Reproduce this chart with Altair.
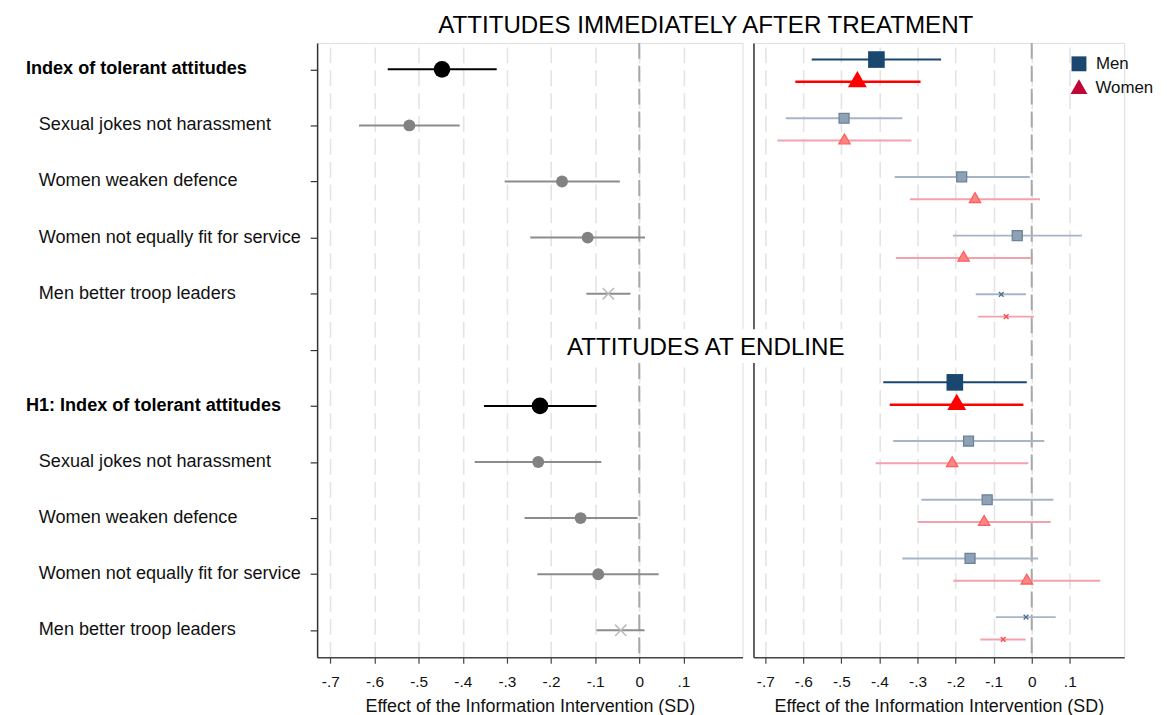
import altair as alt
import pandas as pd

# ------------------------------------------------------------------ data
items = ["Sexual jokes not harassment", "Women weaken defence",
         "Women not equally fit for service", "Men better troop leaders"]
labels_top = ["Index of tolerant attitudes"] + items
labels_end = ["H1: Index of tolerant attitudes"] + items
kinds = ["index", "item", "item", "item", "cross"]

pooled_top_est = [-0.447, -0.521, -0.175, -0.117, -0.070]
pooled_top_lo = [-0.570, -0.635, -0.305, -0.247, -0.120]
pooled_top_hi = [-0.323, -0.407, -0.044, 0.013, -0.020]
pooled_end_est = [-0.225, -0.229, -0.133, -0.093, -0.042]
pooled_end_lo = [-0.352, -0.373, -0.260, -0.231, -0.097]
pooled_end_hi = [-0.097, -0.086, -0.004, 0.044, 0.012]

men_top_est = [-0.408, -0.493, -0.184, -0.038, -0.080]
men_top_lo = [-0.578, -0.646, -0.360, -0.207, -0.147]
men_top_hi = [-0.238, -0.340, -0.005, 0.132, -0.015]
women_top_est = [-0.458, -0.492, -0.149, -0.179, -0.067]
women_top_lo = [-0.621, -0.668, -0.320, -0.357, -0.141]
women_top_hi = [-0.292, -0.316, 0.022, -0.001, 0.006]

men_end_est = [-0.202, -0.166, -0.117, -0.162, -0.015]
men_end_lo = [-0.390, -0.364, -0.290, -0.340, -0.094]
men_end_hi = [-0.013, 0.033, 0.057, 0.017, 0.063]
women_end_est = [-0.197, -0.209, -0.125, -0.013, -0.075]
women_end_lo = [-0.373, -0.410, -0.300, -0.206, -0.135]
women_end_hi = [-0.022, -0.009, 0.050, 0.180, -0.016]

x_ticks = [-0.7, -0.6, -0.5, -0.4, -0.3, -0.2, -0.1, 0.0, 0.1]
title_top = "ATTITUDES IMMEDIATELY AFTER TREATMENT"
title_end = "ATTITUDES AT ENDLINE"
x_title = "Effect of the Information Intervention (SD)"
legend_labels = ["Men", "Women"]

# ------------------------------------------------------------------ frames
rows = []
for labels, est, lo, hi, base in [
    (labels_top, pooled_top_est, pooled_top_lo, pooled_top_hi, 1),
    (labels_end, pooled_end_est, pooled_end_lo, pooled_end_hi, 7),
]:
    for i in range(5):
        rows.append(dict(label=labels[i], row=base + i, est=est[i], lo=lo[i],
                         hi=hi[i], kind=kinds[i]))
left_df = pd.DataFrame(rows)

WOMEN_SHIFT = 0.38
rrows = []
for base, me, ml, mh, we, wl, wh in [
    (1.0, men_top_est, men_top_lo, men_top_hi, women_top_est, women_top_lo, women_top_hi),
    (6.5, men_end_est, men_end_lo, men_end_hi, women_end_est, women_end_lo, women_end_hi),
]:
    for i in range(5):
        rrows.append(dict(sex="Men", pos=base + i, est=me[i], lo=ml[i], hi=mh[i], kind=kinds[i]))
        rrows.append(dict(sex="Women", pos=base + i + WOMEN_SHIFT, est=we[i], lo=wl[i],
                          hi=wh[i], kind=kinds[i]))
right_df = pd.DataFrame(rrows)


def pick(df, kinds_in, sex=None):
    m = df["kind"].isin(kinds_in)
    if sex is not None:
        m &= df["sex"] == sex
    return df[m]


# ------------------------------------------------------------------ styling
FONT = "Liberation Sans"
W_L, W_R, H = 428, 373, 618
NAVY = "#1a476f"
X_PATH = "M-1,-1L1,1M-1,1L1,-1"
TRI_PATH = "M0,-1.155L1,0.577L-1,0.577Z"

x_axis = alt.Axis(
    values=x_ticks,
    labelExpr="datum.value == 0 ? '0' : (datum.value < 0 ? '-' : '') + '.' + round(abs(datum.value) * 10)",
    title=x_title, grid=True, gridDash=[16, 7], gridColor="#e4e4e4", gridWidth=1.6,
    domainColor="#444444", domainWidth=1.5, tickColor="#444444", tickSize=6, tickWidth=1.2,
    labelFont=FONT, labelFontSize=15.5, labelColor="#111111", labelPadding=11,
    titleFont=FONT, titleFontSize=18, titleFontWeight="normal", titleColor="#111111",
    titlePadding=8,
)
y_axis_left = alt.Axis(values=list(range(1, 12)), labels=False, title=None, grid=False,
                       domainColor="#333333", domainWidth=1.5, tickColor="#333333",
                       tickSize=7, tickWidth=1.2)
y_axis_right = alt.Axis(labels=False, ticks=False, title=None, grid=False,
                        domainColor="#333333", domainWidth=1.5)

XL = alt.Scale(domain=[-0.73, 0.234], nice=False, zero=False)
YL = alt.Scale(domain=[0.53, 11.48], reverse=True, nice=False, zero=False)
XR = alt.Scale(domain=[-0.731, 0.243], nice=False, zero=False)
YR = alt.Scale(domain=[0.717, 11.183], reverse=True, nice=False, zero=False)


def ci(df, xs, ys, yfield, yaxis, color, width):
    return alt.Chart(df).mark_rule(color=color, strokeWidth=width).encode(
        x=alt.X("lo:Q", scale=xs, axis=x_axis), x2="hi:Q",
        y=alt.Y(f"{yfield}:Q", scale=ys, axis=yaxis))


def pts(df, xs, ys, yfield, yaxis, shape, size, fill=None, stroke=None, sw=0):
    if fill is None:
        mk = alt.Chart(df).mark_point(shape=shape, size=size, filled=False, stroke=stroke,
                                      strokeWidth=sw, opacity=1)
    else:
        kw = dict(shape=shape, size=size, filled=True, fill=fill, opacity=1)
        if stroke is not None:
            kw.update(stroke=stroke, strokeWidth=sw)
        else:
            kw.update(strokeWidth=0)
        mk = alt.Chart(df).mark_point(**kw)
    return mk.encode(x=alt.X("est:Q", scale=xs, axis=x_axis),
                     y=alt.Y(f"{yfield}:Q", scale=ys, axis=yaxis))


def zero_rule(xs):
    return alt.Chart(pd.DataFrame({"v": [0.0]})).mark_rule(
        color="#a8a8a8", strokeWidth=2, strokeDash=[16, 7]).encode(
        x=alt.X("v:Q", scale=xs, axis=x_axis))


# ------------------------------------------------------------------ left panel
bold_df = left_df[left_df["kind"] == "index"]
norm_df = left_df[left_df["kind"] != "index"]
left = alt.layer(
    zero_rule(XL),
    ci(pick(left_df, ["item", "cross"]), XL, YL, "row", y_axis_left, "#8c8c8c", 2),
    ci(pick(left_df, ["index"]), XL, YL, "row", y_axis_left, "#000000", 2),
    pts(pick(left_df, ["item"]), XL, YL, "row", y_axis_left, "circle", 144, fill="#828282"),
    pts(pick(left_df, ["index"]), XL, YL, "row", y_axis_left, "circle", 280, fill="#000000"),
    pts(pick(left_df, ["cross"]), XL, YL, "row", y_axis_left, X_PATH, 130, stroke="#bdbdbd", sw=1.6),
    alt.Chart(bold_df).mark_text(align="left", baseline="middle", font=FONT, fontSize=18.2,
                                 fontWeight="bold", color="#000000").encode(
        x=alt.value(-293), y=alt.Y("row:Q", scale=YL, axis=y_axis_left), text="label:N"),
    alt.Chart(norm_df).mark_text(align="left", baseline="middle", font=FONT, fontSize=18.2,
                                 color="#111111").encode(
        x=alt.value(-280), y=alt.Y("row:Q", scale=YL, axis=y_axis_left), text="label:N"),
).properties(width=W_L, height=H)

# ------------------------------------------------------------------ right panel
one = pd.DataFrame({"t": [title_top]})
two = pd.DataFrame({"t": [title_end]})
leg = pd.DataFrame({"t": legend_labels})

right = alt.layer(
    zero_rule(XR),
    ci(pick(right_df, ["item", "cross"], "Men"), XR, YR, "pos", y_axis_right, "#a6b6c7", 2),
    ci(pick(right_df, ["item", "cross"], "Women"), XR, YR, "pos", y_axis_right, "#f2a2ab", 2),
    ci(pick(right_df, ["index"], "Men"), XR, YR, "pos", y_axis_right, NAVY, 2),
    ci(pick(right_df, ["index"], "Women"), XR, YR, "pos", y_axis_right, "#ff0000", 2.5),
    pts(pick(right_df, ["item"], "Men"), XR, YR, "pos", y_axis_right, "square", 100,
        fill="#8ea1b5", stroke="#6b8299", sw=1.3),
    pts(pick(right_df, ["item"], "Women"), XR, YR, "pos", y_axis_right, TRI_PATH, 130,
        fill="#ff8484", stroke="#ff5e5e", sw=1.3),
    pts(pick(right_df, ["cross"], "Men"), XR, YR, "pos", y_axis_right, X_PATH, 22,
        stroke="#4f6f8f", sw=1.4),
    pts(pick(right_df, ["cross"], "Women"), XR, YR, "pos", y_axis_right, X_PATH, 22,
        stroke="#ff4a4a", sw=1.4),
    pts(pick(right_df, ["index"], "Men"), XR, YR, "pos", y_axis_right, "square", 280, fill=NAVY),
    pts(pick(right_df, ["index"], "Women"), XR, YR, "pos", y_axis_right, TRI_PATH, 361,
        fill="#ff0000"),
    # section titles
    alt.Chart(one).mark_text(align="center", baseline="alphabetic", font=FONT, fontSize=24.3,
                             color="#000000").encode(
        x=alt.value(-48), y=alt.value(-10), text="t:N"),
    alt.Chart(two).mark_rect(color="white").encode(
        x=alt.value(-192), x2=alt.value(96), y=alt.value(288), y2=alt.value(322)),
    alt.Chart(two).mark_text(align="center", baseline="alphabetic", font=FONT, fontSize=24.3,
                             color="#000000").encode(
        x=alt.value(-48), y=alt.value(314.3), text="t:N"),
    # legend
    alt.Chart(leg.iloc[[0]]).mark_point(shape="square", size=225, filled=True, fill=NAVY,
                                        strokeWidth=0, opacity=1).encode(
        x=alt.value(327.5), y=alt.value(21)),
    alt.Chart(leg.iloc[[1]]).mark_point(shape="triangle-up", size=289, filled=True,
                                        fill="#c10534", strokeWidth=0, opacity=1).encode(
        x=alt.value(327.5), y=alt.value(44)),
    alt.Chart(leg.iloc[[0]]).mark_text(align="left", baseline="alphabetic", font=FONT,
                                       fontSize=17, color="#111111").encode(
        x=alt.value(344.5), y=alt.value(26.5), text="t:N"),
    alt.Chart(leg.iloc[[1]]).mark_text(align="left", baseline="alphabetic", font=FONT,
                                       fontSize=17, color="#111111").encode(
        x=alt.value(344), y=alt.value(50.7), text="t:N"),
).properties(width=W_R, height=H)

chart = alt.hconcat(
    left, right, spacing=11, bounds="flush",
    padding={"left": 17, "top": 3, "right": 5, "bottom": 0},
).configure_view(stroke=None).configure(font=FONT)

chart.save("out.html", embed_options={"renderer": "svg", "actions": False})
